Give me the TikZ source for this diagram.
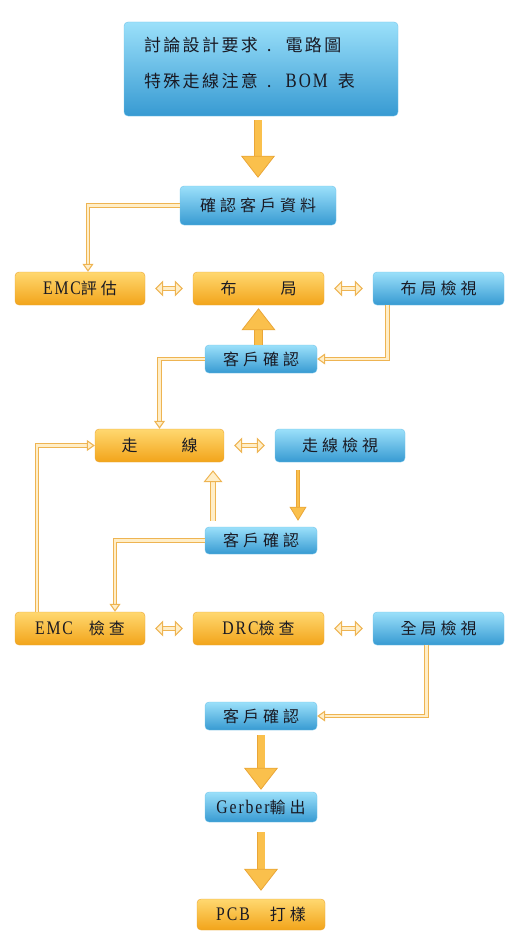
\documentclass[tikz,border=0pt]{standalone}
\usepackage{fontspec}
\newfontfamily\cjk[LetterSpace=25]{Noto Sans CJK TC}
\newfontfamily\lat[Scale=1.2, FakeStretch=0.82, LetterSpace=10]{Liberation Serif}
\usetikzlibrary{arrows.meta,positioning,calc}
\definecolor{bluetop}{RGB}{155, 224, 250}
\definecolor{bluebot}{RGB}{55, 154, 210}
\definecolor{blueline}{RGB}{115, 196, 234}
\definecolor{orangetop}{RGB}{255, 216, 112}
\definecolor{orangebot}{RGB}{242, 164, 26}
\definecolor{orangeline}{RGB}{234, 166, 56}
\definecolor{linkline}{RGB}{238, 180, 82}
\definecolor{linkfill}{RGB}{255, 238, 200}
\definecolor{fatfill}{RGB}{250, 192, 76}
\definecolor{textdark}{RGB}{25, 25, 35}

\begin{document}
\begin{tikzpicture}[x=1pt, y=-1pt,
  base/.style={rounded corners=4pt, minimum height=33pt, inner sep=0pt,
    text=textdark, font=\cjk\fontsize{16}{18}\selectfont},
  bluebox/.style={base, draw=blueline, top color=bluetop, bottom color=bluebot},
  orangebox/.style={base, draw=orangeline, top color=orangetop, bottom color=orangebot},
  link/.style={draw=linkline, line width=1.1pt, double=linkfill, double distance=2.6pt,
    -{Triangle[open, length=8pt, width=11pt, fill=linkfill]}},
  twoway/.style={draw=linkline, line width=1pt, double=linkfill, double distance=3.2pt,
    {Triangle[open, length=8pt, width=16pt, fill=linkfill]}-{Triangle[open, length=8pt, width=16pt, fill=linkfill]}},
  fat/.style={draw=orangeline, line width=0.8pt, double=fatfill, double distance=7pt,
    -{Triangle[length=22pt, width=34pt, fill=fatfill]}},
  thinfat/.style={draw=orangeline, line width=0.8pt, double=fatfill, double distance=2.5pt,
    -{Triangle[length=14pt, width=17pt, fill=fatfill]}},
  hollow/.style={draw=linkline, line width=1pt, double=linkfill, double distance=4pt,
    -{Triangle[open, length=12pt, width=19pt, fill=linkfill]}}]
  \useasboundingbox (0,0) rectangle (520,950);

  % request box
  \node[bluebox, minimum height=94pt, text width=234pt, inner xsep=20pt, align=left,
    font=\cjk\addfontfeature{LetterSpace=14}\fontsize{17}{36}\selectfont] (req) at (261,69)
    {討論設計要求\hspace{9pt}.\hspace{14pt}電路圖\\
     特殊走線注意\hspace{9pt}.\hspace{14pt}{\lat BOM}\hspace{10pt}表\\[-22pt]\mbox{}};
  \node[bluebox, minimum width=156pt, minimum height=39pt] (cdata) at (258,205.5) {確認客戶資料};

  % layout row
  \node[orangebox, minimum width=130pt] (emceval) at (80,288.5) {{\lat EMC}評估};
  \node[orangebox, minimum width=131pt] (layout) at (258.5,288.5) {布　　局};
  \node[bluebox, minimum width=131pt] (layoutrev) at (438.5,288.5) {布局檢視};
  \node[bluebox, minimum width=112pt, minimum height=28pt] (okA) at (261,359) {客戶確認};

  % routing row
  \node[orangebox, minimum width=129pt] (route) at (159.5,445.5) {走　　線};
  \node[bluebox, minimum width=130pt] (routerev) at (340,445.5) {走線檢視};
  \node[bluebox, minimum width=112pt, minimum height=27pt] (okB) at (261,540.5) {客戶確認};

  % check row
  \node[orangebox, minimum width=130pt] (emcchk) at (80,628.5) {{\lat EMC}\hspace{16pt}檢查};
  \node[orangebox, minimum width=131pt] (drc) at (258.5,628.5) {{\lat DRC}檢查};
  \node[bluebox, minimum width=131pt] (allrev) at (438.5,628.5) {全局檢視};
  \node[bluebox, minimum width=112pt, minimum height=28pt] (okC) at (261,716) {客戶確認};

  % output
  \node[bluebox, minimum width=112pt, minimum height=30pt] (gerber) at (261,807) {{\lat Gerber}輸出};
  \node[orangebox, minimum width=128pt, minimum height=31pt] (pcb) at (261,914.5) {{\lat PCB}\hspace{20pt}打樣};

  \coordinate (upx) at (213,0);
  \coordinate (downx) at (298,0);

  % big arrows
  \draw[fat, shorten <=4pt, shorten >=8pt] (cdata.north |- req.south) -- (cdata.north);
  \draw[fat, shorten >=3pt] (okA.north -| layout.south) -- (layout.south);
  \draw[fat, shorten <=5pt, shorten >=2pt] (okC.south) -- (gerber.north);
  \draw[fat, shorten <=10pt, shorten >=8pt] (gerber.south) -- (pcb.north);

  % side links
  \draw[link] (cdata.west) -| ($(emceval.north)+(8,0)$);
  \draw[link] ($(layoutrev.south)+(-51,0)$) |- (okA.east);
  \draw[link] (okA.west) -| (route.north);
  \draw[link] (okB.west) -| ($(emcchk.north)+(35,0)$);
  \draw[link] ($(emcchk.north)+(-43,0)$) |- (route.west);
  \draw[link] ($(allrev.south)+(-12,0)$) |- (okC.east);

  \draw[hollow, shorten <=6pt, shorten >=8pt] (okB.north -| upx) -- (route.south -| upx);
  \draw[thinfat, shorten <=8pt, shorten >=6pt] (routerev.south -| downx) -- (okB.north -| downx);

  % two-way arrows
  \draw[twoway, shorten <=10pt, shorten >=10pt] (emceval.east) -- (layout.west);
  \draw[twoway, shorten <=10pt, shorten >=10pt] (layout.east) -- (layoutrev.west);
  \draw[twoway, shorten <=10pt, shorten >=10pt] (route.east) -- (routerev.west);
  \draw[twoway, shorten <=10pt, shorten >=10pt] (emcchk.east) -- (drc.west);
  \draw[twoway, shorten <=10pt, shorten >=10pt] (drc.east) -- (allrev.west);
\end{tikzpicture}
\end{document}
